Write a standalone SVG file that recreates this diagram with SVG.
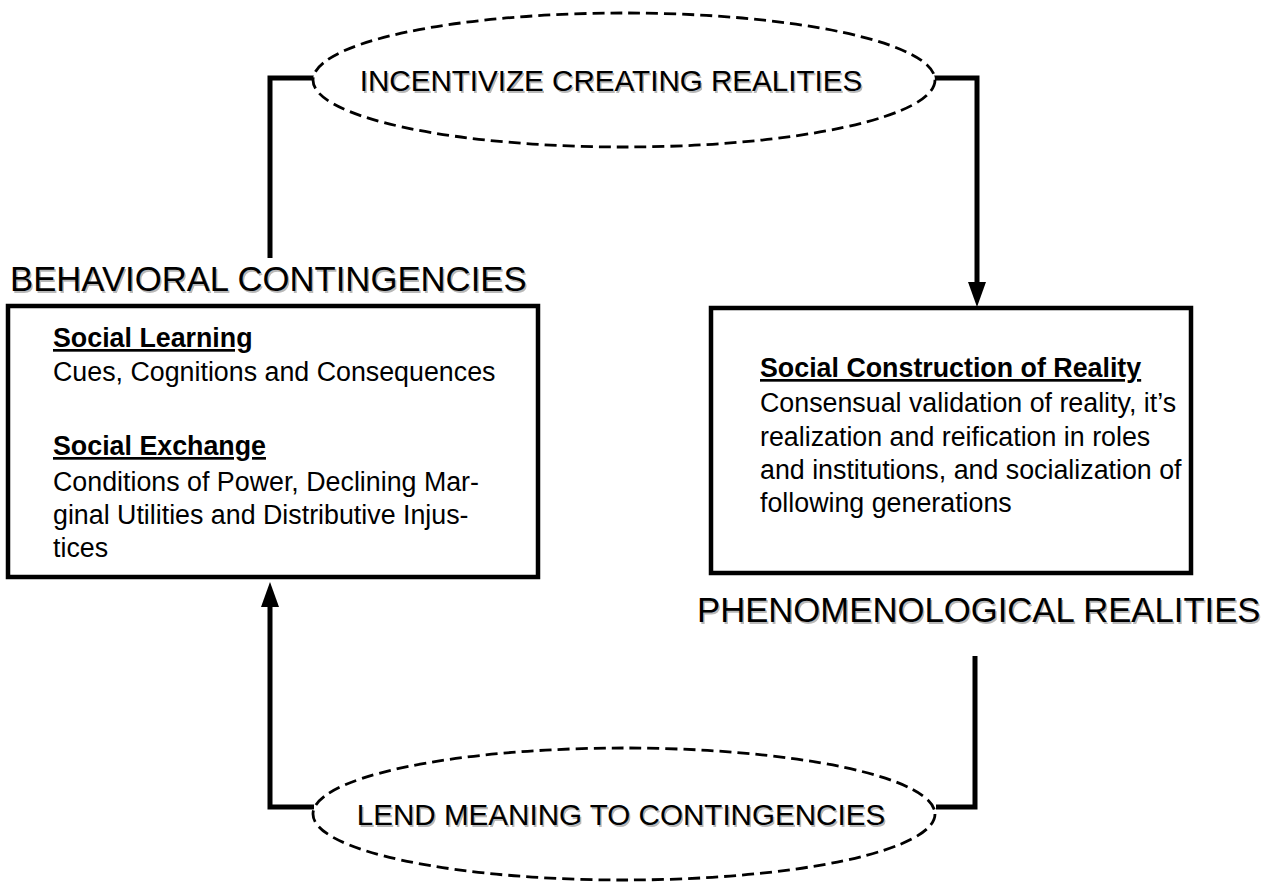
<svg xmlns="http://www.w3.org/2000/svg" width="1268" height="882" viewBox="0 0 1268 882">
  <defs>
    <style>
      .box { fill: none; stroke: #000; stroke-width: 4.5; }
      .oval { fill: #fff; stroke: #000; stroke-width: 2.8; stroke-dasharray: 12 6; }
      .wire { fill: none; stroke: #000; stroke-width: 5; stroke-linejoin: miter; }
      .title { font-family: "Liberation Sans", Arial, sans-serif; font-size: 34.7px; fill: #000; }
      .ovtext { font-family: "Liberation Sans", Arial, sans-serif; font-size: 29.6px; fill: #000; }
      .shadow { fill: #b8b8b8; filter: url(#soft); }
      .head { font-family: "Liberation Sans", Arial, sans-serif; font-size: 26.8px; font-weight: bold; text-decoration: underline; fill: #000; }
      .body { font-family: "Liberation Sans", Arial, sans-serif; font-size: 26.8px; fill: #000; }
    </style>
    <filter id="soft" x="-5%" y="-20%" width="110%" height="140%">
      <feGaussianBlur stdDeviation="0.7"/>
    </filter>
  </defs>

  <!-- connectors -->
  <g id="connectors">
    <!-- behavioral contingencies up to the upper oval -->
    <polyline class="wire" points="270,258 270,78 314,78"/>
    <!-- upper oval down into the phenomenological box -->
    <polyline class="wire" points="934,78 977,78 977,284"/>
    <polygon points="968,282 986,282 977,307" fill="#000"/>
    <!-- phenomenological realities down to the lower oval -->
    <polyline class="wire" points="975,656 975,807 936,807"/>
    <!-- lower oval up into the behavioral box -->
    <polyline class="wire" points="314,807 270,807 270,605"/>
    <polygon points="261,607 279,607 270,582" fill="#000"/>
  </g>

  <!-- upper oval -->
  <g id="incentivize">
    <ellipse class="oval" cx="624" cy="80" rx="311" ry="67"/>
    <text class="ovtext shadow" x="612.5" y="92.5" text-anchor="middle">INCENTIVIZE CREATING REALITIES</text>
    <text class="ovtext" x="611" y="91" text-anchor="middle">INCENTIVIZE CREATING REALITIES</text>
  </g>

  <!-- lower oval -->
  <g id="lend-meaning">
    <ellipse class="oval" cx="624" cy="814" rx="311" ry="66"/>
    <text class="ovtext shadow" x="622.5" y="826.5" text-anchor="middle">LEND MEANING TO CONTINGENCIES</text>
    <text class="ovtext" x="621" y="825" text-anchor="middle">LEND MEANING TO CONTINGENCIES</text>
  </g>

  <!-- behavioral contingencies -->
  <g id="behavioral">
    <text class="title shadow" x="11.5" y="292.5">BEHAVIORAL CONTINGENCIES</text>
    <text class="title" x="10" y="291">BEHAVIORAL CONTINGENCIES</text>
    <rect class="box" x="8" y="306" width="530" height="271"/>
    <text class="head" x="53" y="347">Social Learning</text>
    <text class="body" x="53" y="381">Cues, Cognitions and Consequences</text>
    <text class="head" x="53" y="455">Social Exchange</text>
    <text class="body" x="53" y="491">Conditions of Power, Declining Mar-</text>
    <text class="body" x="53" y="524">ginal Utilities and Distributive Injus-</text>
    <text class="body" x="53" y="557">tices</text>
  </g>

  <!-- phenomenological realities -->
  <g id="phenomenological">
    <rect class="box" x="711" y="308" width="480" height="265"/>
    <text class="head" x="760" y="377">Social Construction of Reality</text>
    <text class="body" x="760" y="412">Consensual validation of reality, it’s</text>
    <text class="body" x="760" y="446">realization and reification in roles</text>
    <text class="body" x="760" y="479">and institutions, and socialization of</text>
    <text class="body" x="760" y="512">following generations</text>
    <text class="title shadow" x="698.5" y="623.5">PHENOMENOLOGICAL REALITIES</text>
    <text class="title" x="697" y="622">PHENOMENOLOGICAL REALITIES</text>
  </g>
</svg>
